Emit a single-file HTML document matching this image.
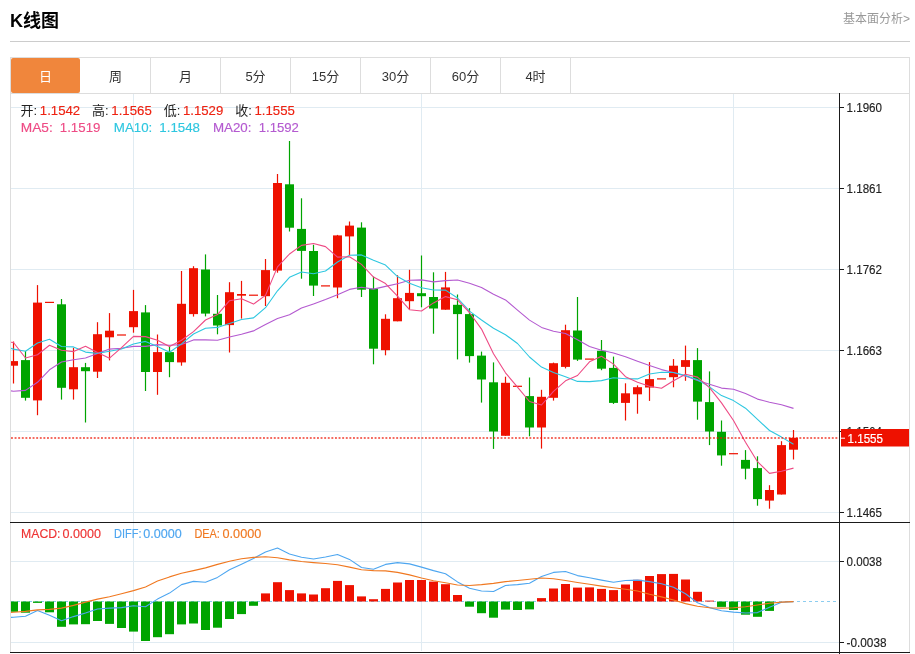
<!DOCTYPE html>
<html lang="zh-CN"><head><meta charset="utf-8"><title>K线图</title>
<style>
html,body{margin:0;padding:0;background:#fff;}
body{width:915px;height:654px;position:relative;overflow:hidden;font-family:"Liberation Sans","Noto Sans CJK SC",sans-serif;}
.title{position:absolute;left:10px;top:9px;font-size:18px;font-weight:bold;color:#000;line-height:24px;letter-spacing:0;}
.more{position:absolute;right:5px;top:10px;font-size:12px;color:#999;line-height:18px;}
.hr{position:absolute;left:10px;top:41px;width:900px;height:1px;background:#ccc;}
.tabs{position:absolute;left:10px;top:57px;width:898px;height:35px;border:1px solid #ddd;}
.tab{position:absolute;top:0;height:35px;width:69px;border-right:1px solid #ddd;text-align:center;line-height:37px;font-size:13px;color:#333;}
.tab.on{background:#f0863c;color:#fff;border-right:none;width:69px;left:0;border-radius:2px;}
</style></head><body>
<div class="title">K线图</div>
<div class="more">基本面分析&gt;</div>
<div class="hr"></div>
<div class="tabs">
<div class="tab on" style="left:0">日</div>
<div class="tab" style="left:70px">周</div>
<div class="tab" style="left:140px">月</div>
<div class="tab" style="left:210px">5分</div>
<div class="tab" style="left:280px">15分</div>
<div class="tab" style="left:350px">30分</div>
<div class="tab" style="left:420px">60分</div>
<div class="tab" style="left:490px">4时</div>
</div>
<svg class="chart" width="915" height="561" viewBox="0 93 915 561" style="position:absolute;left:0;top:93px" font-family="'Liberation Sans', 'Noto Sans CJK SC', sans-serif">
<defs><clipPath id="cp"><rect x="11" y="93" width="828" height="560"/></clipPath></defs>
<rect x="11" y="107" width="828" height="1" fill="#e0ebf2"/>
<rect x="11" y="188" width="828" height="1" fill="#e0ebf2"/>
<rect x="11" y="269" width="828" height="1" fill="#e0ebf2"/>
<rect x="11" y="350" width="828" height="1" fill="#e0ebf2"/>
<rect x="11" y="431" width="828" height="1" fill="#e0ebf2"/>
<rect x="11" y="512" width="828" height="1" fill="#e0ebf2"/>
<rect x="11" y="561" width="828" height="1" fill="#e0ebf2"/>
<rect x="11" y="642" width="828" height="1" fill="#e0ebf2"/>
<rect x="133" y="94" width="1" height="428" fill="#e0ebf2"/>
<rect x="133" y="523" width="1" height="128" fill="#e0ebf2"/>
<rect x="421" y="94" width="1" height="428" fill="#e0ebf2"/>
<rect x="421" y="523" width="1" height="128" fill="#e0ebf2"/>
<rect x="733" y="94" width="1" height="428" fill="#e0ebf2"/>
<rect x="733" y="523" width="1" height="128" fill="#e0ebf2"/>
<line x1="11" y1="601.5" x2="836" y2="601.5" stroke="#8ccdf0" stroke-width="1" stroke-dasharray="3 3"/>
<rect x="10" y="93" width="1" height="559" fill="#dddddd"/>
<rect x="909" y="93" width="1" height="559" fill="#dddddd"/>
<g clip-path="url(#cp)">
<rect x="9.0" y="601.5" width="9" height="10.3" fill="#00a400"/>
<rect x="21.0" y="601.5" width="9" height="11.2" fill="#00a400"/>
<rect x="33.0" y="601.5" width="9" height="1.4" fill="#00a400"/>
<rect x="45.0" y="601.5" width="9" height="10.8" fill="#00a400"/>
<rect x="57.0" y="601.5" width="9" height="25.3" fill="#00a400"/>
<rect x="69.0" y="601.5" width="9" height="22.9" fill="#00a400"/>
<rect x="81.0" y="601.5" width="9" height="22.7" fill="#00a400"/>
<rect x="93.0" y="601.5" width="9" height="19.5" fill="#00a400"/>
<rect x="105.0" y="601.5" width="9" height="22.4" fill="#00a400"/>
<rect x="117.0" y="601.5" width="9" height="26.5" fill="#00a400"/>
<rect x="129.0" y="601.5" width="9" height="30.1" fill="#00a400"/>
<rect x="141.0" y="601.5" width="9" height="39.5" fill="#00a400"/>
<rect x="153.0" y="601.5" width="9" height="35.7" fill="#00a400"/>
<rect x="165.0" y="601.5" width="9" height="32.7" fill="#00a400"/>
<rect x="177.0" y="601.5" width="9" height="22.9" fill="#00a400"/>
<rect x="189.0" y="601.5" width="9" height="22.0" fill="#00a400"/>
<rect x="201.0" y="601.5" width="9" height="28.5" fill="#00a400"/>
<rect x="213.0" y="601.5" width="9" height="26.2" fill="#00a400"/>
<rect x="225.0" y="601.5" width="9" height="17.5" fill="#00a400"/>
<rect x="237.0" y="601.5" width="9" height="12.6" fill="#00a400"/>
<rect x="249.0" y="601.5" width="9" height="4.3" fill="#00a400"/>
<rect x="261.0" y="593.4" width="9" height="8.1" fill="#ee1100"/>
<rect x="273.0" y="582.2" width="9" height="19.3" fill="#ee1100"/>
<rect x="285.0" y="590.1" width="9" height="11.4" fill="#ee1100"/>
<rect x="297.0" y="593.4" width="9" height="8.1" fill="#ee1100"/>
<rect x="309.0" y="594.5" width="9" height="7.0" fill="#ee1100"/>
<rect x="321.0" y="588.2" width="9" height="13.3" fill="#ee1100"/>
<rect x="333.0" y="580.9" width="9" height="20.6" fill="#ee1100"/>
<rect x="345.0" y="585.1" width="9" height="16.4" fill="#ee1100"/>
<rect x="357.0" y="596.4" width="9" height="5.1" fill="#ee1100"/>
<rect x="369.0" y="599.2" width="9" height="2.3" fill="#ee1100"/>
<rect x="381.0" y="588.9" width="9" height="12.6" fill="#ee1100"/>
<rect x="393.0" y="582.5" width="9" height="19.0" fill="#ee1100"/>
<rect x="405.0" y="580.0" width="9" height="21.5" fill="#ee1100"/>
<rect x="417.0" y="580.0" width="9" height="21.5" fill="#ee1100"/>
<rect x="429.0" y="581.6" width="9" height="19.9" fill="#ee1100"/>
<rect x="441.0" y="584.2" width="9" height="17.3" fill="#ee1100"/>
<rect x="453.0" y="595.0" width="9" height="6.5" fill="#ee1100"/>
<rect x="465.0" y="601.5" width="9" height="5.2" fill="#00a400"/>
<rect x="477.0" y="601.5" width="9" height="11.7" fill="#00a400"/>
<rect x="489.0" y="601.5" width="9" height="16.2" fill="#00a400"/>
<rect x="501.0" y="601.5" width="9" height="8.1" fill="#00a400"/>
<rect x="513.0" y="601.5" width="9" height="8.5" fill="#00a400"/>
<rect x="525.0" y="601.5" width="9" height="7.9" fill="#00a400"/>
<rect x="537.0" y="598.1" width="9" height="3.4" fill="#ee1100"/>
<rect x="549.0" y="588.5" width="9" height="13.0" fill="#ee1100"/>
<rect x="561.0" y="584.0" width="9" height="17.5" fill="#ee1100"/>
<rect x="573.0" y="587.6" width="9" height="13.9" fill="#ee1100"/>
<rect x="585.0" y="587.4" width="9" height="14.1" fill="#ee1100"/>
<rect x="597.0" y="588.9" width="9" height="12.6" fill="#ee1100"/>
<rect x="609.0" y="590.1" width="9" height="11.4" fill="#ee1100"/>
<rect x="621.0" y="584.5" width="9" height="17.0" fill="#ee1100"/>
<rect x="633.0" y="579.8" width="9" height="21.7" fill="#ee1100"/>
<rect x="645.0" y="576.0" width="9" height="25.5" fill="#ee1100"/>
<rect x="657.0" y="574.1" width="9" height="27.4" fill="#ee1100"/>
<rect x="669.0" y="573.9" width="9" height="27.6" fill="#ee1100"/>
<rect x="681.0" y="579.5" width="9" height="22.0" fill="#ee1100"/>
<rect x="693.0" y="591.8" width="9" height="9.7" fill="#ee1100"/>
<rect x="705.0" y="600.6" width="9" height="0.9" fill="#ee1100"/>
<rect x="717.0" y="601.5" width="9" height="5.4" fill="#00a400"/>
<rect x="729.0" y="601.5" width="9" height="8.5" fill="#00a400"/>
<rect x="741.0" y="601.5" width="9" height="13.2" fill="#00a400"/>
<rect x="753.0" y="601.5" width="9" height="15.3" fill="#00a400"/>
<rect x="765.0" y="601.5" width="9" height="9.4" fill="#00a400"/>
<rect x="12.9" y="341.5" width="1.2" height="42.0" fill="#ee1100"/>
<rect x="9.0" y="361.1" width="9" height="4.6" fill="#ee1100"/>
<rect x="24.9" y="351.0" width="1.2" height="49.6" fill="#00a400"/>
<rect x="21.0" y="360.1" width="9" height="37.7" fill="#00a400"/>
<rect x="36.9" y="285.1" width="1.2" height="130.1" fill="#ee1100"/>
<rect x="33.0" y="302.6" width="9" height="97.8" fill="#ee1100"/>
<rect x="45.0" y="301.8" width="9" height="1.2" fill="#ee1100"/>
<rect x="60.9" y="299.0" width="1.2" height="100.6" fill="#00a400"/>
<rect x="57.0" y="304.3" width="9" height="83.5" fill="#00a400"/>
<rect x="72.9" y="347.8" width="1.2" height="51.8" fill="#ee1100"/>
<rect x="69.0" y="367.2" width="9" height="22.1" fill="#ee1100"/>
<rect x="84.9" y="362.9" width="1.2" height="59.6" fill="#00a400"/>
<rect x="81.0" y="367.2" width="9" height="4.0" fill="#00a400"/>
<rect x="96.9" y="322.2" width="1.2" height="55.8" fill="#ee1100"/>
<rect x="93.0" y="334.2" width="9" height="37.5" fill="#ee1100"/>
<rect x="108.9" y="313.1" width="1.2" height="47.3" fill="#ee1100"/>
<rect x="105.0" y="330.7" width="9" height="6.6" fill="#ee1100"/>
<rect x="117.0" y="334.4" width="9" height="1.2" fill="#ee1100"/>
<rect x="132.9" y="289.9" width="1.2" height="42.8" fill="#ee1100"/>
<rect x="129.0" y="311.1" width="9" height="16.1" fill="#ee1100"/>
<rect x="144.9" y="305.1" width="1.2" height="85.9" fill="#00a400"/>
<rect x="141.0" y="312.4" width="9" height="59.6" fill="#00a400"/>
<rect x="156.9" y="334.5" width="1.2" height="60.3" fill="#ee1100"/>
<rect x="153.0" y="352.1" width="9" height="19.9" fill="#ee1100"/>
<rect x="168.9" y="345.8" width="1.2" height="31.4" fill="#00a400"/>
<rect x="165.0" y="352.1" width="9" height="10.0" fill="#00a400"/>
<rect x="180.9" y="271.0" width="1.2" height="94.7" fill="#ee1100"/>
<rect x="177.0" y="303.8" width="9" height="58.6" fill="#ee1100"/>
<rect x="192.9" y="266.2" width="1.2" height="50.4" fill="#ee1100"/>
<rect x="189.0" y="268.2" width="9" height="45.9" fill="#ee1100"/>
<rect x="204.9" y="254.4" width="1.2" height="62.0" fill="#00a400"/>
<rect x="201.0" y="269.5" width="9" height="44.1" fill="#00a400"/>
<rect x="216.9" y="295.0" width="1.2" height="39.3" fill="#00a400"/>
<rect x="213.0" y="313.8" width="9" height="11.7" fill="#00a400"/>
<rect x="228.9" y="282.2" width="1.2" height="70.3" fill="#ee1100"/>
<rect x="225.0" y="292.2" width="9" height="32.9" fill="#ee1100"/>
<rect x="240.9" y="280.9" width="1.2" height="37.7" fill="#ee1100"/>
<rect x="237.0" y="294.0" width="9" height="1.7" fill="#ee1100"/>
<rect x="249.0" y="294.6" width="9" height="1.2" fill="#ee1100"/>
<rect x="264.9" y="259.0" width="1.2" height="47.0" fill="#ee1100"/>
<rect x="261.0" y="270.1" width="9" height="26.1" fill="#ee1100"/>
<rect x="276.9" y="174.0" width="1.2" height="98.7" fill="#ee1100"/>
<rect x="273.0" y="183.0" width="9" height="87.6" fill="#ee1100"/>
<rect x="288.9" y="141.0" width="1.2" height="90.5" fill="#00a400"/>
<rect x="285.0" y="184.3" width="9" height="43.4" fill="#00a400"/>
<rect x="300.9" y="198.3" width="1.2" height="80.4" fill="#00a400"/>
<rect x="297.0" y="228.9" width="9" height="22.0" fill="#00a400"/>
<rect x="312.9" y="244.8" width="1.2" height="51.2" fill="#00a400"/>
<rect x="309.0" y="251.0" width="9" height="34.6" fill="#00a400"/>
<rect x="321.0" y="285.3" width="9" height="1.2" fill="#ee1100"/>
<rect x="336.9" y="234.9" width="1.2" height="63.3" fill="#ee1100"/>
<rect x="333.0" y="235.4" width="9" height="52.1" fill="#ee1100"/>
<rect x="348.9" y="221.5" width="1.2" height="33.7" fill="#ee1100"/>
<rect x="345.0" y="225.6" width="9" height="10.8" fill="#ee1100"/>
<rect x="360.9" y="222.3" width="1.2" height="74.7" fill="#00a400"/>
<rect x="357.0" y="227.6" width="9" height="62.1" fill="#00a400"/>
<rect x="372.9" y="276.6" width="1.2" height="87.7" fill="#00a400"/>
<rect x="369.0" y="288.7" width="9" height="60.0" fill="#00a400"/>
<rect x="384.9" y="314.3" width="1.2" height="41.0" fill="#ee1100"/>
<rect x="381.0" y="318.8" width="9" height="31.4" fill="#ee1100"/>
<rect x="396.9" y="275.2" width="1.2" height="46.1" fill="#ee1100"/>
<rect x="393.0" y="298.2" width="9" height="23.1" fill="#ee1100"/>
<rect x="408.9" y="269.8" width="1.2" height="39.7" fill="#ee1100"/>
<rect x="405.0" y="292.9" width="9" height="8.3" fill="#ee1100"/>
<rect x="420.9" y="255.5" width="1.2" height="51.8" fill="#00a400"/>
<rect x="417.0" y="293.2" width="9" height="3.0" fill="#00a400"/>
<rect x="432.9" y="272.3" width="1.2" height="61.4" fill="#00a400"/>
<rect x="429.0" y="297.0" width="9" height="11.5" fill="#00a400"/>
<rect x="444.9" y="271.9" width="1.2" height="37.8" fill="#ee1100"/>
<rect x="441.0" y="287.4" width="9" height="22.3" fill="#ee1100"/>
<rect x="456.9" y="294.5" width="1.2" height="64.9" fill="#00a400"/>
<rect x="453.0" y="304.8" width="9" height="9.3" fill="#00a400"/>
<rect x="468.9" y="308.1" width="1.2" height="54.5" fill="#00a400"/>
<rect x="465.0" y="314.1" width="9" height="42.0" fill="#00a400"/>
<rect x="480.9" y="351.6" width="1.2" height="51.0" fill="#00a400"/>
<rect x="477.0" y="355.6" width="9" height="23.9" fill="#00a400"/>
<rect x="492.9" y="362.4" width="1.2" height="86.5" fill="#00a400"/>
<rect x="489.0" y="382.3" width="9" height="49.2" fill="#00a400"/>
<rect x="504.9" y="376.7" width="1.2" height="59.1" fill="#ee1100"/>
<rect x="501.0" y="382.8" width="9" height="53.0" fill="#ee1100"/>
<rect x="513.0" y="385.7" width="9" height="1.2" fill="#ee1100"/>
<rect x="528.9" y="377.5" width="1.2" height="58.8" fill="#00a400"/>
<rect x="525.0" y="396.1" width="9" height="31.4" fill="#00a400"/>
<rect x="540.9" y="389.8" width="1.2" height="58.8" fill="#ee1100"/>
<rect x="537.0" y="396.8" width="9" height="30.7" fill="#ee1100"/>
<rect x="552.9" y="362.6" width="1.2" height="38.0" fill="#ee1100"/>
<rect x="549.0" y="363.2" width="9" height="34.6" fill="#ee1100"/>
<rect x="564.9" y="324.7" width="1.2" height="43.7" fill="#ee1100"/>
<rect x="561.0" y="330.2" width="9" height="36.7" fill="#ee1100"/>
<rect x="576.9" y="297.0" width="1.2" height="63.9" fill="#00a400"/>
<rect x="573.0" y="330.5" width="9" height="29.1" fill="#00a400"/>
<rect x="585.0" y="358.5" width="9" height="1.2" fill="#ee1100"/>
<rect x="600.9" y="340.0" width="1.2" height="30.2" fill="#00a400"/>
<rect x="597.0" y="350.8" width="9" height="17.9" fill="#00a400"/>
<rect x="612.9" y="356.6" width="1.2" height="47.3" fill="#00a400"/>
<rect x="609.0" y="367.9" width="9" height="35.0" fill="#00a400"/>
<rect x="624.9" y="383.3" width="1.2" height="37.2" fill="#ee1100"/>
<rect x="621.0" y="393.3" width="9" height="9.6" fill="#ee1100"/>
<rect x="636.9" y="385.4" width="1.2" height="28.3" fill="#ee1100"/>
<rect x="633.0" y="387.2" width="9" height="7.1" fill="#ee1100"/>
<rect x="648.9" y="362.1" width="1.2" height="38.8" fill="#ee1100"/>
<rect x="645.0" y="379.1" width="9" height="8.4" fill="#ee1100"/>
<rect x="657.0" y="378.3" width="9" height="1.2" fill="#ee1100"/>
<rect x="672.9" y="359.1" width="1.2" height="28.2" fill="#ee1100"/>
<rect x="669.0" y="365.7" width="9" height="11.5" fill="#ee1100"/>
<rect x="684.9" y="345.6" width="1.2" height="35.2" fill="#ee1100"/>
<rect x="681.0" y="360.1" width="9" height="6.8" fill="#ee1100"/>
<rect x="696.9" y="348.1" width="1.2" height="71.6" fill="#00a400"/>
<rect x="693.0" y="360.1" width="9" height="41.5" fill="#00a400"/>
<rect x="708.9" y="371.4" width="1.2" height="73.7" fill="#00a400"/>
<rect x="705.0" y="402.1" width="9" height="29.4" fill="#00a400"/>
<rect x="720.9" y="420.5" width="1.2" height="45.2" fill="#00a400"/>
<rect x="717.0" y="431.8" width="9" height="23.6" fill="#00a400"/>
<rect x="729.0" y="453.1" width="9" height="1.2" fill="#ee1100"/>
<rect x="744.9" y="450.1" width="1.2" height="29.2" fill="#00a400"/>
<rect x="741.0" y="459.9" width="9" height="8.8" fill="#00a400"/>
<rect x="756.9" y="456.3" width="1.2" height="49.4" fill="#00a400"/>
<rect x="753.0" y="468.1" width="9" height="31.0" fill="#00a400"/>
<rect x="768.9" y="485.2" width="1.2" height="23.5" fill="#ee1100"/>
<rect x="765.0" y="490.0" width="9" height="10.6" fill="#ee1100"/>
<rect x="780.9" y="441.2" width="1.2" height="53.3" fill="#ee1100"/>
<rect x="777.0" y="445.1" width="9" height="49.4" fill="#ee1100"/>
<rect x="792.9" y="430.0" width="1.2" height="29.5" fill="#ee1100"/>
<rect x="789.0" y="437.8" width="9" height="11.9" fill="#ee1100"/>
<polyline points="1.5,389.5 13.5,391.2 25.5,390.4 37.5,382.3 49.5,369.8 61.5,362.0 73.5,359.7 85.5,358.0 97.5,353.4 109.5,349.1 121.5,348.3 133.5,346.4 145.5,346.4 157.5,344.6 169.5,345.2 181.5,344.6 193.5,339.9 205.5,339.9 217.5,340.2 229.5,337.0 241.5,334.2 253.5,330.9 265.5,324.6 277.5,318.6 289.5,314.8 301.5,308.0 313.5,303.9 325.5,299.6 337.5,294.7 349.5,289.4 361.5,287.2 373.5,289.1 385.5,286.4 397.5,283.7 409.5,280.2 421.5,279.9 433.5,281.9 445.5,280.6 457.5,280.0 469.5,283.2 481.5,287.5 493.5,294.3 505.5,299.9 517.5,310.1 529.5,320.1 541.5,327.4 553.5,331.3 565.5,333.5 577.5,339.7 589.5,346.4 601.5,350.3 613.5,353.0 625.5,356.7 637.5,361.2 649.5,365.5 661.5,369.6 673.5,372.5 685.5,376.1 697.5,380.5 709.5,384.3 721.5,388.1 733.5,389.2 745.5,393.5 757.5,399.1 769.5,402.2 781.5,404.7 793.5,408.4" fill="none" stroke="#b45ad0" stroke-width="1.1" stroke-linejoin="round"/>
<polyline points="1.5,345.5 13.5,349.1 25.5,351.2 37.5,343.0 49.5,339.3 61.5,346.5 73.5,346.9 85.5,352.1 97.5,353.4 109.5,351.2 121.5,349.0 133.5,344.0 145.5,341.4 157.5,346.4 169.5,352.3 181.5,343.9 193.5,334.0 205.5,328.3 217.5,327.4 229.5,323.6 241.5,319.5 253.5,317.9 265.5,307.7 277.5,290.8 289.5,277.3 301.5,272.0 313.5,273.8 325.5,271.0 337.5,262.0 349.5,255.3 361.5,254.9 373.5,260.3 385.5,265.1 397.5,276.6 409.5,283.2 421.5,287.7 433.5,290.0 445.5,290.1 457.5,298.0 469.5,311.1 481.5,320.0 493.5,328.3 505.5,334.7 517.5,343.5 529.5,357.0 541.5,367.1 553.5,372.5 565.5,376.8 577.5,381.4 589.5,381.6 601.5,380.6 613.5,377.7 625.5,378.8 637.5,378.9 649.5,374.0 661.5,372.2 673.5,372.5 685.5,375.5 697.5,379.7 709.5,386.9 721.5,395.6 733.5,400.6 745.5,408.2 757.5,419.4 769.5,430.5 781.5,437.1 793.5,444.3" fill="none" stroke="#2ec7e0" stroke-width="1.1" stroke-linejoin="round"/>
<polyline points="1.5,341.5 13.5,342.5 25.5,358.0 37.5,354.8 49.5,345.2 61.5,350.3 73.5,351.6 85.5,346.2 97.5,352.6 109.5,358.2 121.5,347.7 133.5,336.4 145.5,336.6 157.5,340.2 169.5,346.5 181.5,340.2 193.5,331.6 205.5,320.0 217.5,314.6 229.5,300.7 241.5,298.7 253.5,304.1 265.5,295.4 277.5,266.9 289.5,254.0 301.5,245.4 313.5,243.5 325.5,246.6 337.5,257.1 349.5,256.7 361.5,264.4 373.5,277.1 385.5,283.6 397.5,296.2 409.5,309.7 421.5,311.0 433.5,302.9 445.5,296.6 457.5,299.8 469.5,312.5 481.5,329.1 493.5,353.7 505.5,372.8 517.5,387.2 529.5,401.5 541.5,405.0 553.5,391.3 565.5,380.8 577.5,375.5 589.5,361.8 601.5,356.2 613.5,364.1 625.5,376.7 637.5,382.2 649.5,386.2 661.5,388.3 673.5,380.8 685.5,374.2 697.5,377.1 709.5,387.6 721.5,402.9 733.5,420.5 745.5,442.2 757.5,461.7 769.5,473.4 781.5,471.3 793.5,468.1" fill="none" stroke="#ee4b85" stroke-width="1.1" stroke-linejoin="round"/>
<polyline points="1.5,617.6 13.5,617.3 25.5,616.2 37.5,610.5 49.5,615.3 61.5,620.7 73.5,616.6 85.5,613.0 97.5,609.0 109.5,608.1 121.5,607.6 133.5,605.8 145.5,606.8 157.5,599.1 169.5,593.1 181.5,584.6 193.5,581.4 205.5,582.3 217.5,577.4 229.5,569.8 241.5,564.2 253.5,558.5 265.5,552.1 277.5,548.0 289.5,554.0 301.5,557.2 313.5,559.0 325.5,557.0 337.5,554.5 349.5,559.4 361.5,567.5 373.5,569.3 385.5,564.4 397.5,562.6 409.5,563.9 421.5,567.1 433.5,570.6 445.5,573.8 457.5,581.9 469.5,588.2 481.5,591.0 493.5,591.5 505.5,585.5 517.5,584.6 529.5,583.2 541.5,576.5 553.5,572.4 565.5,571.5 577.5,575.6 589.5,577.8 601.5,580.1 613.5,582.3 625.5,580.5 637.5,580.1 649.5,581.6 661.5,583.7 673.5,587.3 685.5,593.7 697.5,602.7 709.5,607.6 721.5,610.8 733.5,612.1 745.5,613.0 757.5,612.6 769.5,607.2 781.5,602.3 793.5,601.6" fill="none" stroke="#4da6f0" stroke-width="1.1" stroke-linejoin="round"/>
<polyline points="1.5,612.7 13.5,612.3 25.5,611.4 37.5,609.9 49.5,609.4 61.5,608.1 73.5,605.4 85.5,602.1 97.5,599.1 109.5,596.7 121.5,593.7 133.5,590.6 145.5,587.0 157.5,581.0 169.5,576.9 181.5,573.3 193.5,570.6 205.5,567.9 217.5,564.4 229.5,561.2 241.5,558.8 253.5,557.4 265.5,556.7 277.5,557.7 289.5,559.9 301.5,561.5 313.5,562.6 325.5,563.5 337.5,564.8 349.5,567.1 361.5,569.8 373.5,570.6 385.5,570.9 397.5,572.4 409.5,574.9 421.5,578.0 433.5,580.7 445.5,582.8 457.5,585.0 469.5,585.5 481.5,584.6 493.5,583.4 505.5,581.6 517.5,580.5 529.5,579.2 541.5,578.0 553.5,578.7 565.5,580.5 577.5,582.5 589.5,584.3 601.5,586.1 613.5,587.7 625.5,589.2 637.5,591.0 649.5,594.2 661.5,596.9 673.5,600.0 685.5,603.6 697.5,606.3 709.5,607.7 721.5,608.1 733.5,607.7 745.5,606.7 757.5,605.0 769.5,603.2 781.5,602.1 793.5,601.6" fill="none" stroke="#f07820" stroke-width="1.1" stroke-linejoin="round"/>
</g>
<line x1="11" y1="438" x2="839" y2="438" stroke="#ee1100" stroke-opacity="0.62" stroke-width="2" stroke-dasharray="1.9 1.7"/>
<rect x="10" y="522" width="900" height="1" fill="#1a1a1a"/>
<rect x="10" y="652" width="900" height="1" fill="#1a1a1a"/>
<rect x="839" y="93" width="1" height="561" fill="#1a1a1a"/>
<rect x="840" y="107" width="4" height="1" fill="#1a1a1a"/>
<text x="846.5" y="111.6" font-size="13" textLength="35.5" lengthAdjust="spacingAndGlyphs" fill="#222" stroke="#222" stroke-width="0.15">1.1960</text>
<rect x="840" y="188" width="4" height="1" fill="#1a1a1a"/>
<text x="846.5" y="192.6" font-size="13" textLength="35.5" lengthAdjust="spacingAndGlyphs" fill="#222" stroke="#222" stroke-width="0.15">1.1861</text>
<rect x="840" y="269" width="4" height="1" fill="#1a1a1a"/>
<text x="846.5" y="273.6" font-size="13" textLength="35.5" lengthAdjust="spacingAndGlyphs" fill="#222" stroke="#222" stroke-width="0.15">1.1762</text>
<rect x="840" y="350" width="4" height="1" fill="#1a1a1a"/>
<text x="846.5" y="354.6" font-size="13" textLength="35.5" lengthAdjust="spacingAndGlyphs" fill="#222" stroke="#222" stroke-width="0.15">1.1663</text>
<rect x="840" y="431" width="4" height="1" fill="#1a1a1a"/>
<text x="846.5" y="435.6" font-size="13" textLength="35.5" lengthAdjust="spacingAndGlyphs" fill="#222" stroke="#222" stroke-width="0.15">1.1564</text>
<rect x="840" y="512" width="4" height="1" fill="#1a1a1a"/>
<text x="846.5" y="516.6" font-size="13" textLength="35.5" lengthAdjust="spacingAndGlyphs" fill="#222" stroke="#222" stroke-width="0.15">1.1465</text>
<rect x="840" y="561" width="4" height="1" fill="#1a1a1a"/>
<text x="846.5" y="565.6" font-size="13" textLength="35.5" lengthAdjust="spacingAndGlyphs" fill="#222" stroke="#222" stroke-width="0.15">0.0038</text>
<rect x="840" y="642" width="4" height="1" fill="#1a1a1a"/>
<text x="846.5" y="646.6" font-size="13" textLength="40" lengthAdjust="spacingAndGlyphs" fill="#222" stroke="#222" stroke-width="0.15">-0.0038</text>
<rect x="841" y="429" width="68" height="17.5" fill="#ee1100"/>
<rect x="841" y="437.7" width="4" height="1" fill="#fff"/>
<text x="847.5" y="442.5" font-size="13" textLength="35.5" lengthAdjust="spacingAndGlyphs" fill="#fff" stroke="#fff" stroke-width="0.2">1.1555</text>
<text x="20.5" y="115" font-size="13" fill="#222" stroke="#222" stroke-width="0">开:</text>
<text x="39.8" y="115" font-size="13" fill="#ee2211" stroke="#ee2211" stroke-width="0.15" textLength="40.4" lengthAdjust="spacingAndGlyphs">1.1542</text>
<text x="92.1" y="115" font-size="13" fill="#222" stroke="#222" stroke-width="0">高:</text>
<text x="111.35" y="115" font-size="13" fill="#ee2211" stroke="#ee2211" stroke-width="0.15" textLength="40.4" lengthAdjust="spacingAndGlyphs">1.1565</text>
<text x="163.7" y="115" font-size="13" fill="#222" stroke="#222" stroke-width="0">低:</text>
<text x="182.89999999999998" y="115" font-size="13" fill="#ee2211" stroke="#ee2211" stroke-width="0.15" textLength="40.4" lengthAdjust="spacingAndGlyphs">1.1529</text>
<text x="235.29999999999998" y="115" font-size="13" fill="#222" stroke="#222" stroke-width="0">收:</text>
<text x="254.45" y="115" font-size="13" fill="#ee2211" stroke="#ee2211" stroke-width="0.15" textLength="40.4" lengthAdjust="spacingAndGlyphs">1.1555</text>
<text x="20.8" y="132" font-size="13" fill="#ee4b85" stroke="#ee4b85" stroke-width="0.15" textLength="32" lengthAdjust="spacingAndGlyphs">MA5:</text>
<text x="59.8" y="132" font-size="13" fill="#ee4b85" stroke="#ee4b85" stroke-width="0.15" textLength="40.6" lengthAdjust="spacingAndGlyphs">1.1519</text>
<text x="113.8" y="132" font-size="13" fill="#2ec7e0" stroke="#2ec7e0" stroke-width="0.15" textLength="38.5" lengthAdjust="spacingAndGlyphs">MA10:</text>
<text x="159.3" y="132" font-size="13" fill="#2ec7e0" stroke="#2ec7e0" stroke-width="0.15" textLength="40.7" lengthAdjust="spacingAndGlyphs">1.1548</text>
<text x="212.9" y="132" font-size="13" fill="#b45ad0" stroke="#b45ad0" stroke-width="0.15" textLength="38.6" lengthAdjust="spacingAndGlyphs">MA20:</text>
<text x="258.7" y="132" font-size="13" fill="#b45ad0" stroke="#b45ad0" stroke-width="0.15" textLength="40.2" lengthAdjust="spacingAndGlyphs">1.1592</text>
<text x="21" y="538" font-size="13" fill="#ee3333" stroke="#ee3333" stroke-width="0.15" textLength="39.5" lengthAdjust="spacingAndGlyphs">MACD:</text>
<text x="62.5" y="538" font-size="13" fill="#ee3333" stroke="#ee3333" stroke-width="0.15" textLength="38.5" lengthAdjust="spacingAndGlyphs">0.0000</text>
<text x="114" y="538" font-size="13" fill="#4da6f0" stroke="#4da6f0" stroke-width="0.15" textLength="27.5" lengthAdjust="spacingAndGlyphs">DIFF:</text>
<text x="143.2" y="538" font-size="13" fill="#4da6f0" stroke="#4da6f0" stroke-width="0.15" textLength="38.5" lengthAdjust="spacingAndGlyphs">0.0000</text>
<text x="194.4" y="538" font-size="13" fill="#f07820" stroke="#f07820" stroke-width="0.15" textLength="25.5" lengthAdjust="spacingAndGlyphs">DEA:</text>
<text x="222.5" y="538" font-size="13" fill="#f07820" stroke="#f07820" stroke-width="0.15" textLength="38.8" lengthAdjust="spacingAndGlyphs">0.0000</text>
</svg>
</body></html>
